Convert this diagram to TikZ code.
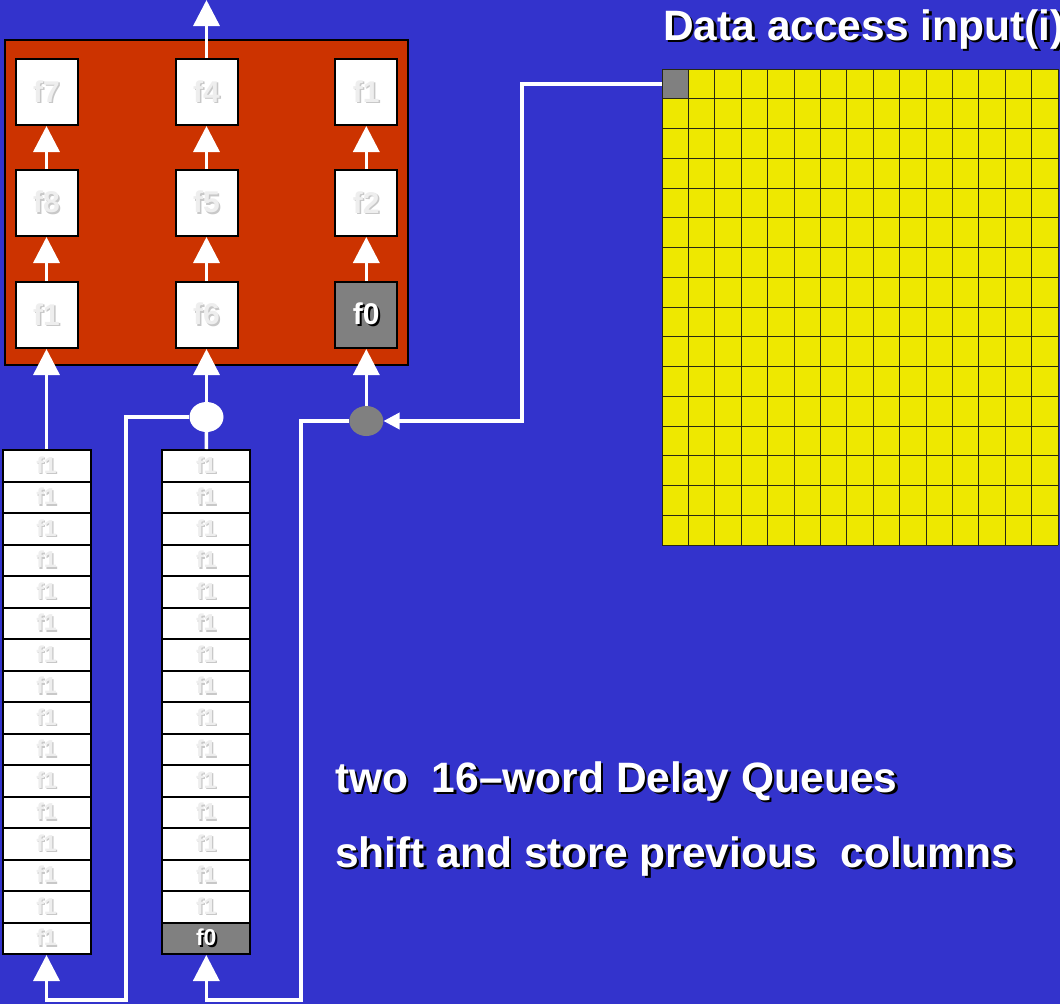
\documentclass[tikz,border=0pt]{standalone}
\usepackage{fontspec}
\setmainfont{Liberation Sans}
\usetikzlibrary{arrows.meta,shapes.geometric}
\definecolor{bgblue}{RGB}{51,51,204}
\definecolor{redbox}{RGB}{204,51,0}
\definecolor{gyellow}{RGB}{238,232,0}
\definecolor{cellgray}{RGB}{128,128,128}
\definecolor{faint}{RGB}{238,238,238}
\definecolor{faintsh}{RGB}{200,200,200}
\definecolor{gridline}{RGB}{40,40,20}
\newcommand{\shtx}[4]{\rlap{\hspace{#4}\raisebox{-#4}{\textcolor{#3}{#1}}}\textcolor{#2}{#1}}
\begin{document}
\begin{tikzpicture}[x=1pt,y=-1pt,
  fbox/.style={draw=black, line width=2pt, fill=white, minimum width=62pt, minimum height=66pt, inner sep=0pt, font=\fontsize{30}{30}\selectfont\bfseries},
  qcell/.style={draw=black, line width=2pt, fill=white, minimum width=88pt, minimum height=31.5pt, inner sep=0pt, font=\fontsize{23}{23}\selectfont\bfseries},
  flow/.style={draw=white, line width=3.5pt, line join=miter},
  arr/.style={flow, -{Triangle[width=26pt,length=26pt]}},
  smallarr/.style={flow, -{Triangle[width=16pt,length=16pt]}},
  bigtext/.style={anchor=base west, inner sep=0pt, font=\fontsize{42.5}{42.5}\selectfont\bfseries},
  joint/.style={ellipse, minimum width=34pt, minimum height=30pt, inner sep=0pt}
]
\useasboundingbox (0,0) rectangle (1060,1004);
\clip (0,0) rectangle (1060,1004);
\fill[bgblue] (0,0) rectangle (1060,1004);

% processing unit
\node[draw=black, line width=2.5pt, fill=redbox, minimum width=403pt, minimum height=325pt, inner sep=0pt] (unit) at (206.5,202.5) {};
\node[fbox] (b11) at (46.5,92) {\shtx{f7}{faint}{faintsh}{1.5pt}};
\node[fbox] (b12) at (206.5,92) {\shtx{f4}{faint}{faintsh}{1.5pt}};
\node[fbox] (b13) at (366.3,92) {\shtx{f1}{faint}{faintsh}{1.5pt}};
\node[fbox] (b21) at (46.5,203) {\shtx{f8}{faint}{faintsh}{1.5pt}};
\node[fbox] (b22) at (206.5,203) {\shtx{f5}{faint}{faintsh}{1.5pt}};
\node[fbox] (b23) at (366.3,203) {\shtx{f2}{faint}{faintsh}{1.5pt}};
\node[fbox] (b31) at (46.5,315) {\shtx{f1}{faint}{faintsh}{1.5pt}};
\node[fbox] (b32) at (206.5,315) {\shtx{f6}{faint}{faintsh}{1.5pt}};
\node[fbox, fill=cellgray] (b33) at (366.3,315) {\shtx{f0}{white}{black}{2pt}};

\foreach \c in {1,2,3}{
  \draw[arr] (b3\c.north) -- (b2\c.south);
  \draw[arr] (b2\c.north) -- (b1\c.south);
}
\coordinate (tout) at (206.5,0);
\draw[arr] (b12.north) -- (tout);

% delay queues
\foreach \k in {1,...,16}{
  \node[qcell] (qa\k) at (46.5,{450+31.5*(\k-0.5)}) {\shtx{f1}{faint}{faintsh}{1.2pt}};
}
\foreach \k in {1,...,15}{
  \node[qcell] (qb\k) at (206.3,{450+31.5*(\k-0.5)}) {\shtx{f1}{faint}{faintsh}{1.2pt}};
}
\node[qcell, fill=cellgray] (qb16) at (206.3,{450+31.5*15.5}) {\shtx{f0}{white}{black}{1.8pt}};

% input grid
\fill[gyellow] (662,69) rectangle (1058,545);
\node[fill=cellgray, minimum width=26.4pt, minimum height=29.75pt, inner sep=0pt] (g00) at (675.2,83.9) {};
\draw[gridline, line width=1pt]
  \foreach \i in {0,...,15}{ ({662+\i*26.4},69) -- ++(0,476) }
  \foreach \j in {0,...,16}{ (662,{69+\j*29.75}) -- ++(396,0) };

% joints
\node[joint, fill=white] (e1) at (206.5,417) {};
\node[joint, fill=cellgray] (e2) at (366.3,421) {};

% connectors
\coordinate (c1) at (126,1000);
\coordinate (c2) at (301,1000);
\coordinate (c3) at (522,421);
\draw[arr] (qa1.north) -- (b31.south);
\draw[flow] (qb1.north) -- (e1.south);
\draw[arr] (e1.north) -- (b32.south);
\draw[arr] (e1.west) -| (c1) -| (qa16.south);
\draw[arr] (e2.north) -- (b33.south);
\draw[arr] (e2.west) -| (c2) -| (qb16.south);
\draw[smallarr] (g00.west) -| (c3) -- (e2.east);

% texts
\node[bigtext] (title) at (663,40) {\shtx{Data access input(i)}{white}{black}{2.5pt}};
\node[bigtext] (note1) at (335,792) {\shtx{two\ \ 16–word Delay Queues}{white}{black}{2.5pt}};
\node[bigtext] (note2) at (335,867) {\shtx{shift and store previous\ \ columns}{white}{black}{2.5pt}};
\end{tikzpicture}
\end{document}
